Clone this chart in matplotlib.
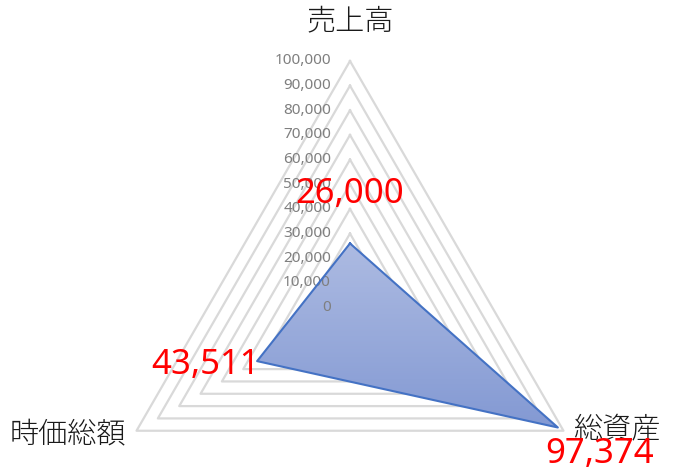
import numpy as np
import matplotlib
matplotlib.use("Agg")
import matplotlib.pyplot as plt
from matplotlib.colors import LinearSegmentedColormap

# ---- data ----
categories = ["売上高", "総資産", "時価総額"]
values = [26000, 97374, 43511]
value_labels = ["26,000", "97,374", "43,511"]
grid_levels = [10000, 20000, 30000, 40000, 50000, 60000, 70000, 80000, 90000, 100000]
tick_values = [0, 10000, 20000, 30000, 40000, 50000, 60000, 70000, 80000, 90000, 100000]
tick_labels = ["0", "10,000", "20,000", "30,000", "40,000", "50,000",
               "60,000", "70,000", "80,000", "90,000", "100,000"]
rmax = 100000

W, H = 673, 475
fig = plt.figure(figsize=(W / 100, H / 100), dpi=100)
fig.patch.set_facecolor("white")

# polar axes: center (350, 307.5) px from top, radius 246.5 px
cx, cy, R = 350, 307.5, 246.5
rect = [(cx - R) / W, (H - cy - R) / H, 2 * R / W, 2 * R / H]


def make_polar(label, z):
    a = fig.add_axes(rect, projection="polar", label=label, zorder=z)
    a.set_theta_offset(np.pi / 2)
    a.set_theta_direction(-1)
    a.set_ylim(0, rmax)
    a.set_axis_off()
    a.patch.set_alpha(0)
    return a


ax_grid = make_polar("grid", 0)
ax = make_polar("main", 2)

n = len(categories)
angles = np.arange(n) * 2 * np.pi / n
ang_closed = np.concatenate([angles, angles[:1]])

# triangular gridlines (below the fill)
for lv in grid_levels:
    ax_grid.plot(ang_closed, [lv] * (n + 1), color="#d9d9d9", lw=1.6,
                 clip_on=False)

# data polygon
vals_closed = list(values) + [values[0]]
poly = ax.fill(ang_closed, vals_closed, facecolor="none", edgecolor="none")[0]
ax.plot(ang_closed, vals_closed, color="#4472c4", lw=1.5, zorder=4, clip_on=False)

# gradient fill clipped to the polygon via a pixel-space overlay axes
fig.canvas.draw()
verts = ax.transData.transform(np.column_stack([ang_closed, vals_closed]))
ov = fig.add_axes([0, 0, 1, 1], label="overlay", zorder=1)
ov.set_xlim(0, W)
ov.set_ylim(0, H)
ov.set_axis_off()
ov.patch.set_alpha(0)
ymin, ymax = verts[:, 1].min(), verts[:, 1].max()
xmin, xmax = verts[:, 0].min(), verts[:, 0].max()
cmap = LinearSegmentedColormap.from_list("g", ["#8399d3", "#adbbe2"])
grad = np.linspace(0, 1, 256).reshape(-1, 1)
im = ov.imshow(grad, cmap=cmap, aspect="auto", origin="lower",
               extent=[xmin, xmax, ymin, ymax])
im.set_clip_path(poly)

# radial tick labels
for v, t in zip(tick_values, tick_labels):
    ax.annotate(t, xy=(0, v), xytext=(-19, 0), textcoords="offset pixels",
                ha="right", va="center", fontsize=11, color="#7f7f7f",
                family=["Noto Sans", "DejaVu Sans"], zorder=3,
                annotation_clip=False)

# category labels
cjk = ["Noto Sans CJK JP", "DejaVu Sans"]
cat_offsets = [(0, 40), (10, 2), (-10, -3)]
cat_ha = ["center", "left", "right"]
for a, c, off, ha in zip(angles, categories, cat_offsets, cat_ha):
    ax.annotate(c, xy=(a, rmax), xytext=off, textcoords="offset pixels",
                ha=ha, va="center", fontsize=21, color="#1a1a1a",
                family=cjk, weight="light", annotation_clip=False)

# value labels
val_offsets = [(0, 49), (42, -26), (3, -4)]
val_ha = ["center", "center", "right"]
for a, v, t, off, ha in zip(angles, values, value_labels, val_offsets, val_ha):
    ax.annotate(t, xy=(a, v), xytext=off, textcoords="offset pixels",
                ha=ha, va="center", fontsize=25, color="#ff0000",
                family=["Noto Sans", "DejaVu Sans"], zorder=6,
                annotation_clip=False)

fig.savefig("out.png", dpi=100, facecolor="white")
